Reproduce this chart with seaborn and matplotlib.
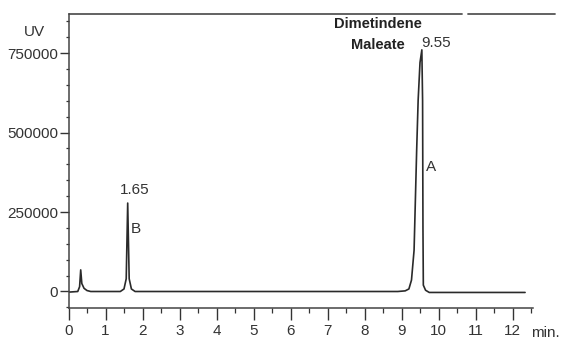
import matplotlib
matplotlib.use("Agg")
import matplotlib.pyplot as plt
import seaborn as sns
import numpy as np

# Chromatogram trace (time in min, UV signal)
time = [0.00, 0.25, 0.30, 0.33, 0.36, 0.42, 0.50, 0.60, 1.40, 1.50, 1.56,
        1.60, 1.64, 1.70, 1.80, 5.00, 8.90, 9.10, 9.20, 9.27, 9.34, 9.41,
        9.45, 9.50, 9.55, 9.57, 9.58, 9.59, 9.65, 9.75, 10.50, 12.34]
uv = [-2000, 0, 15000, 68000, 25000, 10000, 3000, 0, 0, 8000, 40000,
      278000, 40000, 8000, 0, 0, 0, 2000, 8000, 36000, 130000, 445000,
      602000, 720000, 760000, 600000, 200000, 20000, 4000, -3000, -3000, -3000]

x_ticks = list(range(0, 13))
y_ticks = [0, 250000, 500000, 750000]
y_tick_labels = ["0", "250000", "500000", "750000"]

sns.set_style("ticks")
plt.rcParams['font.family'] = ['Liberation Sans Narrow', 'Liberation Sans', 'DejaVu Sans']

fig = plt.figure(figsize=(5.62, 3.41), dpi=100)
W, H = 562, 341
ax = fig.add_axes([68.5 / W, 1 - 308 / H, (555 - 68.5) / W, (308 - 14) / H])

sns.lineplot(x=time, y=uv, ax=ax, color="#2a2a2a", lw=1.2, estimator=None)

ax.set_xlim(0, (555 - 68.5) / 37)
ax.set_ylim(-51900, 872700)

ax.set_xticks(x_ticks)
ax.set_xticklabels([str(t) for t in x_ticks])
ax.set_xticks(np.arange(0.5, 12.6, 1.0), minor=True)
ax.set_yticks(y_ticks)
ax.set_yticklabels(y_tick_labels)
ax.set_yticks([v for v in range(-50000, 870001, 50000) if v % 250000 != 0], minor=True)

ax.tick_params(axis="x", which="major", length=8.5, width=1.0, pad=3, labelsize=11, colors="#333")
ax.tick_params(axis="x", which="minor", length=3.6, width=0.9, colors="#333")
ax.tick_params(axis="y", which="major", length=6.5, width=1.0, pad=1, labelsize=11, colors="#333")
ax.tick_params(axis="y", which="minor", length=2.5, width=0.9, colors="#333")

for s in ["top", "right"]:
    ax.spines[s].set_visible(False)
for s in ["left", "bottom"]:
    ax.spines[s].set_color("#444")
    ax.spines[s].set_linewidth(1.1)
ax.spines["bottom"].set_bounds(0, 12.55)

# top border with a small gap
tr = ax.get_xaxis_transform()
ax.plot([0, 10.63], [1, 1], transform=tr, color="#555", lw=1.3, clip_on=False)
ax.plot([10.8, 13.15], [1, 1], transform=tr, color="#555", lw=1.3, clip_on=False)

ax.set_xlabel("")
ax.set_ylabel("")

# annotations
ax.text(1.78, 319000, "1.65", ha="center", va="center", fontsize=11, color="#333")
ax.text(1.82, 196500, "B", ha="center", va="center", fontsize=11, color="#333")
ax.text(9.81, 391500, "A", ha="center", va="center", fontsize=11, color="#333")
ax.text(9.93, 780000, "9.55", ha="center", va="center", fontsize=11, color="#333")
ax.text(8.35, 839700, "Dimetindene", ha="center", va="center", fontsize=10.5,
        fontweight="bold", color="#222")
ax.text(8.35, 775200, "Maleate", ha="center", va="center", fontsize=10.5,
        fontweight="bold", color="#222")

fig.text(34 / W, 1 - 32 / H, "UV", ha="center", va="center", fontsize=11, color="#333")
fig.text(545 / W, 1 - 333 / H, "min.", ha="center", va="center", fontsize=11, color="#333")

fig.savefig("out.png", dpi=100)
